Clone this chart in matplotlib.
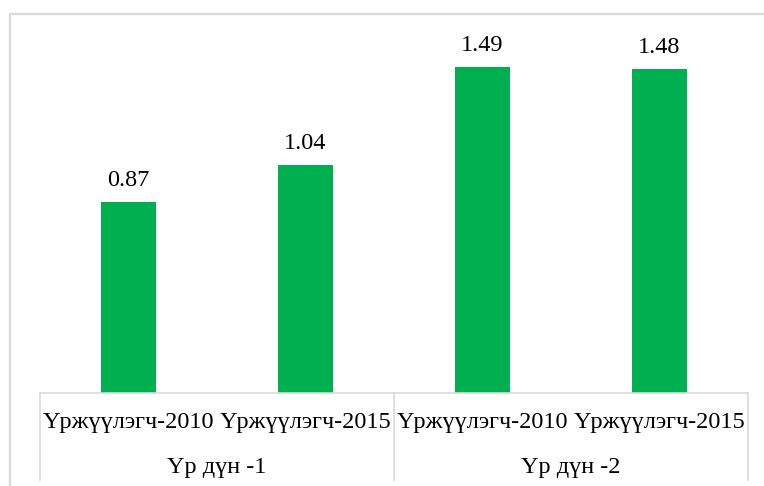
import matplotlib.pyplot as plt
from matplotlib.lines import Line2D

# Data
categories = ['Үржүүлэгч-2010', 'Үржүүлэгч-2015', 'Үржүүлэгч-2010', 'Үржүүлэгч-2015']
groups = ['Үр дүн -1', 'Үр дүн -2']
values = [0.87, 1.04, 1.49, 1.48]

plt.rcParams['font.family'] = ['Liberation Serif', 'DejaVu Serif']
green = '#00B050'
grid_col = '#d9d9d9'

fig = plt.figure(figsize=(7.64, 4.86), dpi=100)
W, H = 764, 486
ax = fig.add_axes([40 / W, 93 / H, 708 / W, 350.4 / H])

x = list(range(len(values)))
bars = ax.bar(x, values, width=0.316, color=green)
ax.bar_label(bars, labels=['%.2f' % v for v in values], padding=8, fontsize=17.5)

ax.set_xlim(-0.5, len(values) - 0.5)
ax.set_ylim(0, 1.6)
ax.set_yticks([])
ax.set_xticks(x)
ax.set_xticklabels(categories, fontsize=17.5, va='center')
ax.tick_params(axis='x', length=0, pad=21.5)

for s in ['top', 'right', 'left']:
    ax.spines[s].set_visible(False)
ax.spines['bottom'].set_color(grid_col)
ax.spines['bottom'].set_linewidth(1.2)

# group separators and group labels
tr = ax.get_xaxis_transform()
for b in [-0.5, 1.5, 3.5]:
    ax.plot([b, b], [0, -87 / 350.4], color=grid_col, lw=1.2, transform=tr, clip_on=False)
for i, g in enumerate(groups):
    ax.annotate(g, xy=(2 * i + 0.5, 0), xycoords=tr, xytext=(0, -74),
                textcoords='offset pixels', ha='center', va='center', fontsize=17.5)

# outer chart border
fig.add_artist(Line2D([10 / W, 10 / W, 1], [0, 1 - 14 / H, 1 - 14 / H],
                      color=grid_col, lw=1.6, transform=fig.transFigure))

fig.savefig('out.png', dpi=100)
